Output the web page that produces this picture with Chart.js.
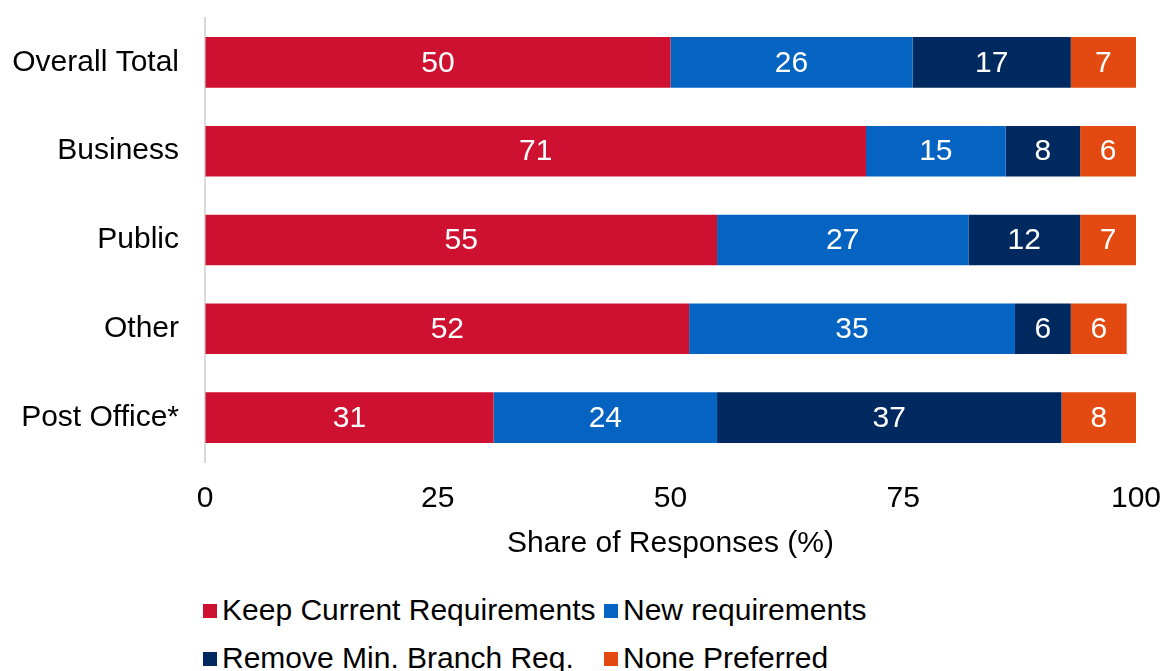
<!DOCTYPE html>
<html>
<head>
<meta charset="utf-8">
<script src="https://cdn.jsdelivr.net/npm/chart.js@4.4.0/dist/chart.umd.min.js"></script>
<style>
  body { margin: 0; background: #fff; font-family: "Liberation Sans", Arial, sans-serif; }
  #wrap { position: relative; width: 1164px; height: 671px; overflow: hidden; }
  #chartBox { position: absolute; left: 0; top: 0; width: 1164px; height: 580px; }
  #legend { position: absolute; left: 203px; top: 592px; width: 900px; }
  .row { height: 48px; position: relative; }
  .item { position: absolute; top: 0; font-size: 30px; color: #000; white-space: nowrap; line-height: 36px; }
  .item span.box { display: inline-block; width: 14px; height: 14px; margin-right: 5px; vertical-align: 2px; }
</style>
</head>
<body>
<div id="wrap">
  <div id="chartBox"><canvas id="chart1"></canvas></div>
  <div id="legend"></div>
</div>
<script>
var categories = ['Overall Total', 'Business', 'Public', 'Other', 'Post Office*'];
var keepCurrent = [50, 71, 55, 52, 31];
var newReq = [26, 15, 27, 35, 24];
var removeMin = [17, 8, 12, 6, 37];
var nonePreferred = [7, 6, 7, 6, 8];
var xTicks = [0, 25, 50, 75, 100];

var seriesNames = ['Keep Current Requirements', 'New requirements', 'Remove Min. Branch Req.', 'None Preferred'];
var seriesColors = ['#CE1130', '#0563C1', '#00295F', '#E24A12'];

var fontFamily = '"Liberation Sans", Arial, sans-serif';

// writes the value in the middle of each bar segment
var barLabels = {
    id: 'barLabels',
    afterDatasetsDraw: function(chart) {
        var ctx = chart.ctx;
        ctx.save();
        ctx.font = '30px ' + fontFamily;
        ctx.fillStyle = '#fff';
        ctx.textAlign = 'center';
        ctx.textBaseline = 'middle';
        chart.data.datasets.forEach(function(ds, i) {
            var meta = chart.getDatasetMeta(i);
            meta.data.forEach(function(bar, j) {
                var left = Math.min(bar.x, bar.base);
                var right = Math.min(Math.max(bar.x, bar.base), chart.chartArea.right);
                ctx.fillText(ds.data[j], (left + right) / 2, bar.y + 1);
            });
        });
        ctx.restore();
    }
};

function makeChart() {
    var ctx1 = document.getElementById('chart1').getContext('2d');
    var datasets = [keepCurrent, newReq, removeMin, nonePreferred].map(function(vals, i) {
        return {
            label: seriesNames[i],
            data: vals,
            backgroundColor: seriesColors[i],
            borderWidth: 0,
            barPercentage: 0.57,
            categoryPercentage: 1
        };
    });

    // invisible tick marks keep the labels away from the axis
    // (tick padding would also pad the chart area edges)
    new Chart(ctx1, {
        type: 'bar',
        data: { labels: categories, datasets: datasets },
        plugins: [barLabels],
        options: {
            indexAxis: 'y',
            responsive: true,
            maintainAspectRatio: false,
            animation: false,
            layout: { padding: { left: 0, right: 28, top: 18, bottom: 18 } },
            plugins: {
                legend: { display: false },
                tooltip: { enabled: false }
            },
            scales: {
                x: {
                    stacked: true,
                    min: 0,
                    max: 100,
                    afterBuildTicks: function(scale) {
                        scale.ticks = xTicks.map(function(v) { return { value: v }; });
                    },
                    grid: { display: true, drawOnChartArea: false, drawTicks: true, tickLength: 19, tickColor: 'rgba(0,0,0,0)' },
                    border: { display: false },
                    ticks: { color: '#000', padding: 0, font: { size: 30, family: fontFamily } },
                    title: {
                        display: true,
                        text: 'Share of Responses (%)',
                        color: '#000',
                        padding: { top: 9, bottom: 0 },
                        font: { size: 30, family: fontFamily }
                    }
                },
                y: {
                    stacked: true,
                    afterFit: function(scale) { scale.width = 205; },
                    grid: { display: true, drawOnChartArea: false, drawTicks: true, tickLength: 26, tickColor: 'rgba(0,0,0,0)' },
                    border: { display: true, color: '#D9D9D9', width: 2 },
                    ticks: { color: '#000', padding: 0, font: { size: 30, family: fontFamily } }
                }
            }
        }
    });
}

function makeLegend() {
    var legend = document.getElementById('legend');
    var cols = [0, 401];
    for (var r = 0; r < 2; r++) {
        var row = document.createElement('div');
        row.className = 'row';
        for (var c = 0; c < 2; c++) {
            var k = r * 2 + c;
            var item = document.createElement('div');
            item.className = 'item';
            item.style.left = cols[c] + 'px';
            item.innerHTML = '<span class="box" style="background:' + seriesColors[k] + '"></span>' + seriesNames[k];
            row.appendChild(item);
        }
        legend.appendChild(row);
    }
}

window.onload = function() {
    makeChart();
    makeLegend();
};
</script>
</body>
</html>
